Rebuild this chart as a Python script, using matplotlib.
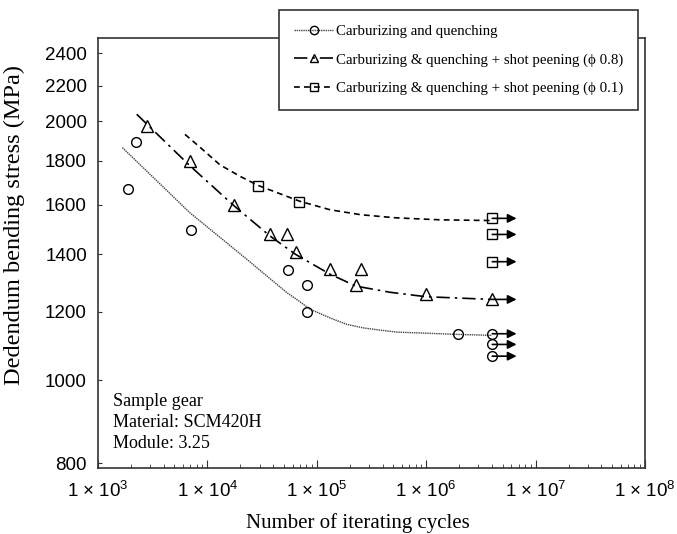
import math
import matplotlib
matplotlib.use("Agg")
import matplotlib.pyplot as plt
from matplotlib.lines import Line2D
from matplotlib.ticker import FixedLocator, NullLocator, LogLocator, FuncFormatter

# measured points
cq_x = [1890, 2220, 7080, 54200, 80900, 80900, 1.94e6]
cq_y = [1667, 1892, 1494, 1342, 1290, 1201, 1132]
cq_run_y = [1132, 1100, 1066]

sp08_x = [2830, 6930, 17500, 37300, 53500, 64100, 132000, 228000, 253000, 995000]
sp08_y = [1975, 1798, 1597, 1477, 1477, 1409, 1345, 1290, 1345, 1260]
sp08_run_y = [1241]

sp01_x = [29200, 69200]
sp01_y = [1681, 1611]
sp01_run_y = [1542, 1477, 1373]

runout_x = 4.02e6
runout_end = 6.7e6

# fitted curves
cq_fit_x = [1670, 6930, 22900, 53100, 65500, 86700, 132000, 187500, 264000,
            378000, 537000, 1.94e6, 4.0e6]
cq_fit_y = [1864, 1565, 1382, 1264, 1241, 1209, 1181, 1161, 1150, 1143, 1137,
            1130, 1127]
sp08_fit_x = [2260, 6930, 17500, 37300, 64100, 90400, 132000, 228000, 467000,
              995000, 4.0e6]
sp08_fit_y = [2038, 1775, 1595, 1471, 1400, 1365, 1328, 1286, 1265, 1250, 1241]
sp01_fit_x = [6240, 8550, 13000, 19860, 29200, 69200, 132000, 253000, 537000,
              1.34e6, 4.0e6]
sp01_fit_y = [1931, 1866, 1780, 1726, 1684, 1615, 1578, 1557, 1544, 1536, 1533]

y_ticks = [800, 1000, 1200, 1400, 1600, 1800, 2000, 2200, 2400]
x_ticks = [1e3, 1e4, 1e5, 1e6, 1e7, 1e8]

labels = ["Carburizing and quenching",
          "Carburizing & quenching + shot peening (\u03d5 0.8)",
          "Carburizing & quenching + shot peening (\u03d5 0.1)"]

serif = ["Liberation Serif", "DejaVu Serif"]
plt.rcParams["font.family"] = ["Liberation Sans", "DejaVu Sans"]
plt.rcParams["mathtext.default"] = "regular"

fig = plt.figure(figsize=(6.77, 5.34), dpi=100)
ax = fig.add_axes([98 / 677, 1 - 468 / 534, 547 / 677, 430 / 534])
ax.set_xscale("log")
ax.set_yscale("log")
ax.set_xlim(1e3, 1e8)
ax.set_ylim(790, 2500)

cq_style = dict(color="#444444", lw=1.0, ls=(0, (1, 0.6)))
sp08_style = dict(color="black", lw=1.2, ls=(0, (8, 3, 1.5, 3)))
sp01_style = dict(color="black", lw=1.2, ls=(0, (3.5, 2.5)))
mk = dict(ls="none", mfc="none", mec="black", mew=1.0)

ax.plot(cq_fit_x, cq_fit_y, **cq_style)
ax.plot(sp08_fit_x, sp08_fit_y, **sp08_style)
ax.plot(sp01_fit_x, sp01_fit_y, **sp01_style)

ax.plot(cq_x, cq_y, marker="o", ms=7, **mk)
ax.plot([runout_x] * len(cq_run_y), cq_run_y, marker="o", ms=7, **mk)
ax.plot(sp08_x, sp08_y, marker="^", ms=8, **mk)
ax.plot([runout_x] * len(sp08_run_y), sp08_run_y, marker="^", ms=8, **mk)
ax.plot(sp01_x, sp01_y, marker="s", ms=7, **mk)
ax.plot([runout_x] * len(sp01_run_y), sp01_run_y, marker="s", ms=7, **mk)

for yv in cq_run_y + sp08_run_y + sp01_run_y:
    ax.annotate("", xy=(runout_end, yv), xytext=(runout_x, yv),
                arrowprops=dict(arrowstyle="-|>", color="black", lw=1.2,
                                mutation_scale=13, shrinkA=0, shrinkB=0))

ax.yaxis.set_major_locator(FixedLocator(y_ticks))
ax.yaxis.set_minor_locator(NullLocator())
ax.yaxis.set_major_formatter(FuncFormatter(lambda v, p: "%d" % v))
ax.xaxis.set_major_locator(FixedLocator(x_ticks))
ax.xaxis.set_minor_locator(LogLocator(base=10, subs=range(2, 10)))
ax.xaxis.set_major_formatter(FuncFormatter(
    lambda v, p: r"1 $\times$ 10$^{%d}$" % round(math.log10(v))))

ax.tick_params(which="both", direction="in", top=False, right=False,
               color="#333333", labelsize=13.5)
ax.tick_params(axis="y", which="major", length=3, pad=8)
ax.tick_params(axis="x", which="major", length=6, pad=9)
ax.tick_params(axis="x", which="minor", length=3)
for s in ax.spines.values():
    s.set_color("#333333")
    s.set_linewidth(1.2)

fig.text(113 / 677, 1 - 448 / 534, "Sample gear\nMaterial: SCM420H\nModule: 3.25",
         family=serif, fontsize=13, va="baseline", linespacing=1.32)

fig.text(14 / 677, 1 - 225 / 534, "Dedendum bending stress (MPa)", rotation=90,
         ha="center", va="center", family=serif, fontsize=17.5)
fig.text(358 / 677, 1 - 523 / 534, "Number of iterating cycles",
         ha="center", va="center", family=serif, fontsize=15)

handles = [
    Line2D([], [], marker="o", ms=6, mfc="none", mec="black", **cq_style),
    Line2D([], [], marker="^", ms=6, mfc="none", mec="black", **sp08_style),
    Line2D([], [], marker="s", ms=6, mfc="none", mec="black", **sp01_style),
]
leg = fig.legend(handles, labels, loc="upper right",
                 bbox_to_anchor=(638 / 677, 1 - 10 / 534), numpoints=1,
                 prop={"family": serif, "size": 10.7}, frameon=True, fancybox=False,
                 edgecolor="#333333", framealpha=1, borderaxespad=0,
                 handlelength=2.6, handletextpad=0.2, labelspacing=1.0,
                 borderpad=1.0)
leg.get_frame().set_linewidth(1.2)

fig.savefig("out.png", dpi=100)
